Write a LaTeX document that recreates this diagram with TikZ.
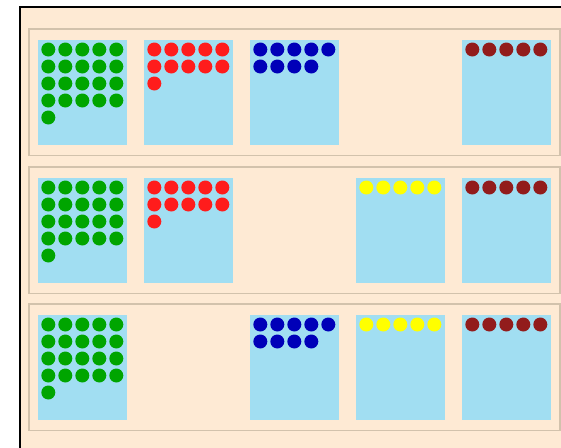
\documentclass[tikz,border=0pt]{standalone}
\definecolor{bg}{HTML}{FEEAD4}
\definecolor{cardc}{HTML}{A1DEF2}
\definecolor{panelline}{HTML}{D2C2AC}
\definecolor{dgreen}{HTML}{00A500}
\definecolor{dred}{HTML}{FF1C1C}
\definecolor{dblue}{HTML}{0000B8}
\definecolor{dyellow}{HTML}{FFFF00}
\definecolor{dbrown}{HTML}{921C1C}
\newcommand{\dotgrid}[4]{%
  \foreach \m in {1,...,#3}{%
    \pgfmathtruncatemacro\cc{mod(\m-1,5)}%
    \pgfmathtruncatemacro\rr{(\m-1)/5}%
    \fill[#4] (#1+10+17*\cc, #2+9.5+17*\rr) circle[radius=7];
  }}
\tikzset{
  cardbox/.style={fill=cardc},
  panelbox/.style={draw=panelline, line width=1.5},
}
\begin{document}
\begin{tikzpicture}[x=1pt,y=-1pt]
\useasboundingbox (0,0) rectangle (561,447);
\clip (0,0) rectangle (561,447);
\fill[white] (0,0) rectangle (561,447);
\draw[fill=bg, line width=1.5] (20,7) rectangle (600,520);
\foreach \top/\cards in {29/{0/21/dgreen,1/11/dred,2/9/dblue,4/5/dbrown},
                         167/{0/21/dgreen,1/11/dred,3/5/dyellow,4/5/dbrown},
                         304/{0/21/dgreen,2/9/dblue,3/5/dyellow,4/5/dbrown}}{
  \draw[panelbox] (29,\top) rectangle (560,\top+126.5);
  \foreach \i/\n/\col in \cards{
    \fill[cardbox] (38.3+106*\i,\top+11) rectangle (126.8+106*\i,\top+116);
    \dotgrid{38.3+106*\i}{\top+11}{\n}{\col}
  }
}
\end{tikzpicture}
\end{document}
